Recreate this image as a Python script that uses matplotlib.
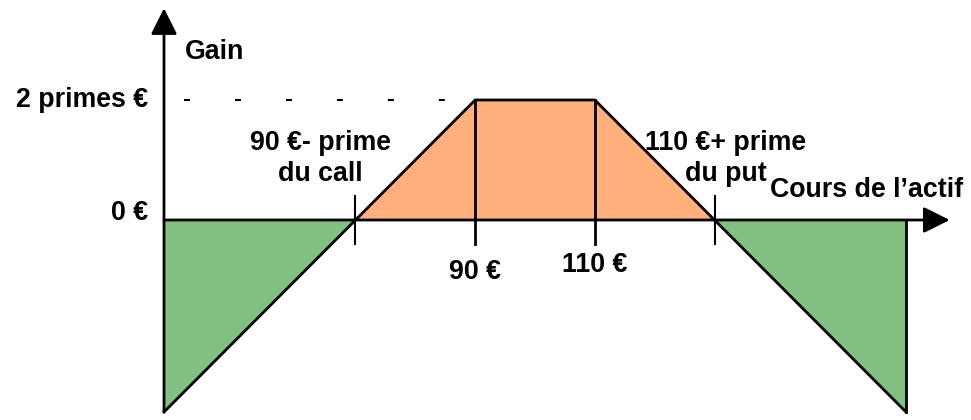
import matplotlib.pyplot as plt

# short strangle payoff (prices in €, gains in €)
prices = [38, 70, 90, 110, 130, 162]
gains = [-32, 0, 20, 20, 0, -32]
strikes = [90, 110]
breakevens = [70, 130]
max_gain = 20
strike_labels = ["90 €", "110 €"]

ORANGE = "#FFB07D"
GREEN = "#80C080"

plt.rcParams['font.family'] = ['Liberation Sans', 'DejaVu Sans']

fig = plt.figure(figsize=(9.71, 4.2), dpi=100)
ax = fig.add_axes([0, 0, 1, 1])
px = 5.984  # pixels per € on the price axis
ax.set_xlim(prices[0] - 164 / px, prices[0] + (971 - 164) / px)
ax.set_ylim(-200 / 6, 220 / 6)
ax.axis('off')

# shaded areas
ax.fill([breakevens[0], strikes[0], strikes[1], breakevens[1]],
        [0, max_gain, max_gain, 0], color=ORANGE, lw=0, zorder=1)
ax.fill([prices[0], breakevens[0], prices[0]], [0, 0, gains[0]],
        color=GREEN, lw=0, zorder=1)
ax.fill([breakevens[1], prices[-1], prices[-1]], [0, 0, gains[-1]],
        color=GREEN, lw=0, zorder=1)

# payoff line
ax.plot(prices, gains, color='black', lw=2, zorder=3, solid_joinstyle='miter')
ax.plot([prices[-1], prices[-1]], [0, gains[-1]], color='black', lw=2, zorder=3)
for s in strikes:
    ax.plot([s, s], [max_gain, -4], color='black', lw=2, zorder=3)
for b in breakevens:
    ax.plot([b, b], [4, -4], color='black', lw=1.5, zorder=3)

# dashed level of the two premiums
lw = 1.5
ax.plot([41.3, 85.1], [max_gain, max_gain], color='black', lw=lw,
        dashes=(4.3 / lw, 32.4 / lw), zorder=2)

# axes with arrows
head = dict(arrowstyle='-|>,head_length=0.8,head_width=0.4',
            mutation_scale=20, lw=2, color='black', shrinkA=0, shrinkB=0)
ax.annotate('', xy=(169.3, 0), xytext=(prices[0], 0), arrowprops=head, zorder=4)
ax.annotate('', xy=(prices[0], 35.3), xytext=(prices[0], gains[0]), arrowprops=head, zorder=4)

fs = 19.3
kw = dict(fontsize=fs, fontweight='bold', color='black')
ax.text(41.5, 28, "Gain", ha='left', va='center', **kw)
ax.text(35.3, max_gain, "2 primes €", ha='right', va='center', **kw)
ax.text(35.3, 1.2, "0 €", ha='right', va='center', **kw)
ax.text(64.2, 10.2, "90 €- prime\ndu call", ha='center', va='center',
        multialignment='center', linespacing=1.25, **kw)
ax.text(131.9, 10.2, "110 €+ prime\ndu put", ha='center', va='center',
        multialignment='center', linespacing=1.25, **kw)
ax.text(139.3, 5, "Cours de l’actif", ha='left', va='center', **kw)
ax.text(strikes[0], -8.7, strike_labels[0], ha='center', va='center', **kw)
ax.text(strikes[1], -7.5, strike_labels[1], ha='center', va='center', **kw)

fig.savefig("out.png", dpi=100)
